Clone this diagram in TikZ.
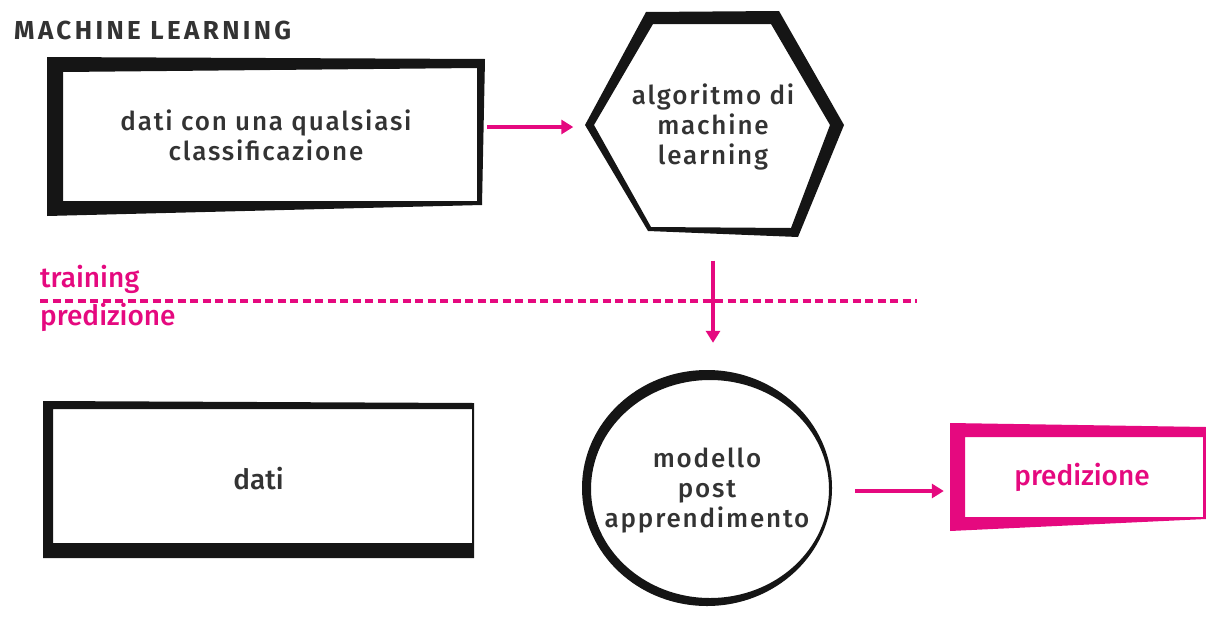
\documentclass[tikz,border=0pt]{standalone}
\usepackage{fontspec}
\setmainfont{Fira Sans}
\newfontfamily\spacedfont[UprightFont=* Medium, LetterSpace=7]{Fira Sans}
\newfontfamily\mediumfont[UprightFont=* Medium]{Fira Sans}
\newfontfamily\headfont[UprightFont=* Bold, LetterSpace=13]{Fira Sans}
\usetikzlibrary{arrows.meta}
\definecolor{inkpink}{HTML}{E5097F}
\definecolor{inkgray}{HTML}{333333}
\definecolor{brush}{HTML}{151515}

\begin{document}
\begin{tikzpicture}[x=1pt,y=-1pt,
  shapebox/.style={draw=none, inner sep=0pt, align=center},
  labeltext/.style={text=inkgray, font=\spacedfont\fontsize{26}{30}\selectfont},
  plaintext/.style={font=\mediumfont\fontsize{28}{30}\selectfont},
  brushfill/.style={fill=brush, even odd rule},
  pinkarrow/.style={draw=inkpink, line width=4pt, -{Triangle[length=12pt,width=14pt]}},
  phase/.style={text=inkpink, font=\mediumfont\fontsize{28}{30}\selectfont, anchor=base west, inner sep=0pt}]

\useasboundingbox (0,0) rectangle (1206,616);

% brush-stroke outlines
\fill[brushfill] (47,57) -- (485,59) -- (482,205) -- (47,216) -- cycle
                 (63,72) -- (477,68) -- (477,201) -- (63,201) -- cycle;
\fill[brushfill] (585,125) -- (646,12) -- (779,11) -- (844,125) -- (798,237) -- (648,231) -- cycle
                 (594,125) -- (653,24) -- (771,24) -- (830,125) -- (791,228) -- (651,227) -- cycle;
\fill[brushfill] (707,488) ellipse [x radius=125pt, y radius=118pt]
                 (710,489) ellipse [x radius=119pt, y radius=109pt];
\fill[brushfill] (43,401) -- (474,403) -- (474,558) -- (43,558) -- cycle
                 (53,409) -- (472,409) -- (472,543) -- (53,543) -- cycle;
\fill[inkpink, even odd rule] (950,423) -- (1206,427) -- (1206,519) -- (950,531) -- cycle
                 (965,437) -- (1203,437) -- (1203,517) -- (965,517) -- cycle;

% title and phase labels
\node[anchor=base west, inner sep=0pt, text=inkgray, font=\headfont\fontsize{26}{30}\selectfont] (title) at (14,39) {MACHINE LEARNING};
\node[phase] (train) at (40,287) {training};
\node[phase] (pred) at (40,325) {predizione};
\draw[inkpink, line width=4pt, dash pattern=on 8pt off 4.5pt] (40,301) -- (917,301);

% content nodes
\node[shapebox, labeltext, minimum width=438pt, minimum height=159pt] (src) at (266,135) {dati con una qualsiasi\\classificazione};
\node[shapebox, labeltext, minimum width=259pt, minimum height=227pt] (alg) at (713,127) {algoritmo di\\machine\\learning};
\node[shapebox, labeltext, minimum width=250pt, minimum height=236pt] (mdl) at (707,491) {modello\\post\\apprendimento};
\node[shapebox, plaintext, text=inkgray, minimum width=431pt, minimum height=157pt] (raw) at (258.5,479) {dati};
\node[shapebox, plaintext, text=inkpink, minimum width=256pt, minimum height=108pt] (out) at (1082,477) {predizione};

% connectors
\draw[pinkarrow, shorten <=2pt, shorten >=10pt] (src.east |- alg.west) -- (alg.west);
\draw[pinkarrow, shorten <=20pt, shorten >=30pt] (alg.south) -- (alg.south |- mdl.north);
\draw[pinkarrow, shorten <=23pt, shorten >=10pt] (mdl.east) -- (mdl.east -| out.west);
\end{tikzpicture}
\end{document}
